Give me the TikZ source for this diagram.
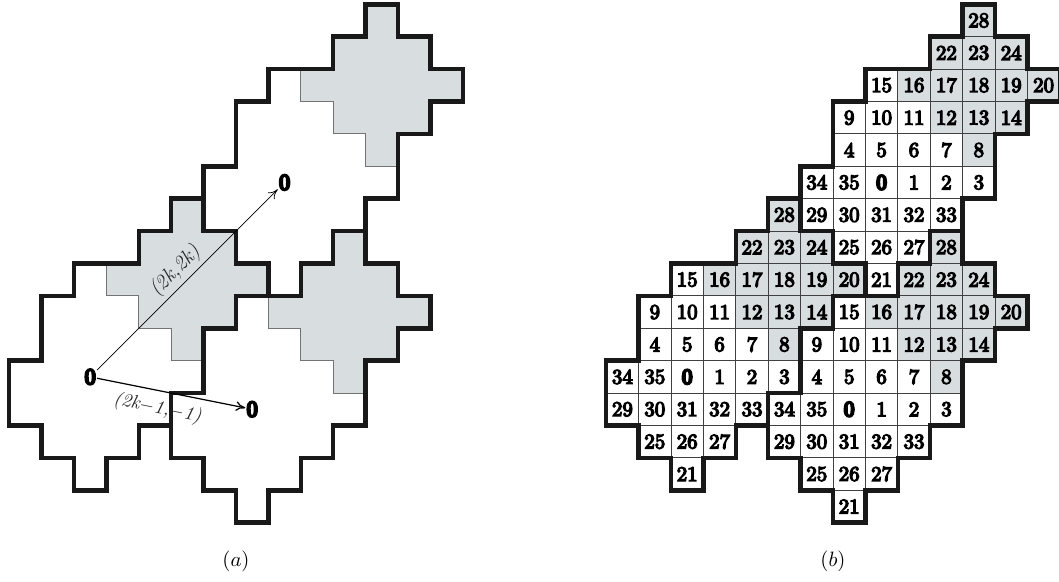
\documentclass[tikz,border=0pt]{standalone}
\usepackage{fontspec}
\usetikzlibrary{arrows.meta,positioning,calc}
\newfontfamily\zerofont[FakeBold=12]{Latin Modern Roman}
\newfontfamily\numfont[FakeBold=6]{Latin Modern Roman}
\definecolor{tileshade}{RGB}{216,221,223}
\newcommand{\shadepath}{(3,6) -- (4,6) -- (4,5) -- (5,5) -- (5,4) -- (6,4) -- (6,3) -- (5,3) -- (5,2) -- (4,2) -- (4,1) -- (3,1) -- (3,2) -- (2,2) -- (2,3) -- (1,3) -- (1,4) -- (2,4) -- (2,5) -- (3,5) -- cycle}
\newcommand{\edgepath}{(3,6) -- (4,6) -- (4,5) -- (5,5) -- (5,4) -- (6,4) -- (6,3) -- (5,3) -- (5,2) -- (4,2) -- (4,0) -- (3,0) -- (3,-1) -- (2,-1) -- (2,-2) -- (1,-2) -- (1,-3) -- (0,-3) -- (0,-2) -- (-1,-2) -- (-1,-1) -- (-2,-1) -- (-2,1) -- (-1,1) -- (-1,3) -- (0,3) -- (0,4) -- (2,4) -- (2,5) -- (3,5) -- cycle}
\tikzset{
  shaded/.style={fill=tileshade,draw=black!55,line width=0.5pt},
  tileedge/.style={draw=black!90,line width=2.35pt,miter limit=4},
  numcell/.style={draw=black!75,line width=0.45pt,minimum size=0.6cm,inner sep=0pt,font=\numfont\fontsize{11}{12}\selectfont},
  zerocell/.style={numcell,font=\zerofont\fontsize{11}{12}\selectfont},
  zeromark/.style={inner sep=0.6pt,font=\zerofont\fontsize{11.5}{12}\selectfont},
  veclabel/.style={text=black!85,font=\fontsize{10}{11}\selectfont\itshape,inner sep=2pt},
  vec/.style={->,>={To[length=5pt,width=5pt]},line width=0.4pt}
}
\begin{document}
\begin{tikzpicture}[x=0.6cm,y=0.6cm]
  \useasboundingbox (-2.284,-5.80) rectangle (30.401,12.132);
  \begin{scope}
    \foreach \ox/\oy in {0/0,5/-1,6/6}
      \path[shaded,shift={(\ox,\oy)}] \shadepath;
    \foreach \ox/\oy in {0/0,5/-1,6/6}
      \path[tileedge,shift={(\ox,\oy)}] \edgepath;
    \node[zeromark] (p) at (0.5,0.5) {0};
    \node[zeromark] (q) at (5.5,-0.5) {0};
    \node[zeromark] (r) at (6.5,6.5) {0};
    \draw[vec] (p) -- node[veclabel,font=\fontsize{11}{12}\selectfont\itshape,sloped,above,pos=0.49] (pr) {(2k,2k)} (r);
    \draw[vec,line width=0.65pt] (p) -- node[veclabel,sloped,below=2pt,pos=0.43] (pq) {(2k$-$1,$-$1)} (q);
    \node[font=\fontsize{11}{12}\selectfont] (capa) at (5,-5.19) {$(a)$};
  \end{scope}
  \begin{scope}[shift={(18.426,0)}]
    \foreach \t/\ox/\oy in {p/0/0,q/5/-1,r/6/6} {
      \begin{scope}[shift={(\ox,\oy)}]
        \fill[tileshade] \shadepath;
        \foreach \n/\cx/\cy in {21/0/-3,25/-1/-2,26/0/-2,27/1/-2,29/-2/-1,30/-1/-1,31/0/-1,32/1/-1,33/2/-1,34/-2/0,35/-1/0,1/1/0,2/2/0,3/3/0,4/-1/1,5/0/1,6/1/1,7/2/1,8/3/1,9/-1/2,10/0/2,11/1/2,12/2/2,13/3/2,14/4/2,15/0/3,16/1/3,17/2/3,18/3/3,19/4/3,20/5/3,22/2/4,23/3/4,24/4/4,28/3/5}
          \node[numcell] (\t\n) at (\cx+0.5,\cy+0.5) {\n};
        \node[zerocell] (\t0) at (0.5,0.5) {0};
      \end{scope}
    }
    \foreach \ox/\oy in {0/0,5/-1,6/6}
      \path[tileedge,shift={(\ox,\oy)}] \edgepath;
    \node[font=\fontsize{11}{12}\selectfont] (capb) at (5,-5.19) {$(b)$};
  \end{scope}
\end{tikzpicture}
\end{document}
